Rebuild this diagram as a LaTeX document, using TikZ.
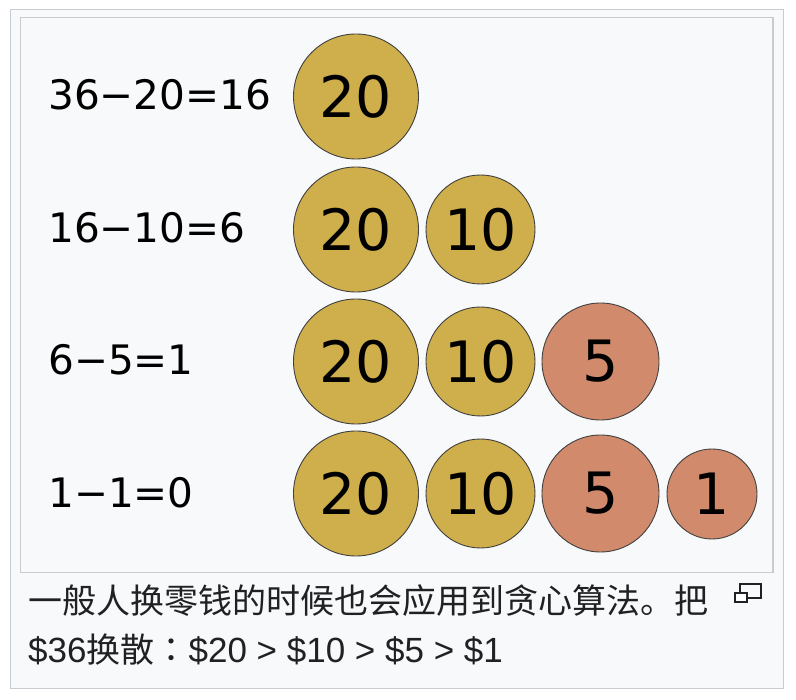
\documentclass[tikz,border=0pt]{standalone}
\usepackage{fontspec}
\setmainfont{DejaVu Sans}
\newfontfamily\cjk{Noto Sans CJK SC}
\newfontfamily\cjktc{Noto Sans CJK TC}
\newfontfamily\latin{Liberation Sans}
\usepackage{tikz}
\usetikzlibrary{positioning}
\definecolor{framegray}{HTML}{C8CCD1}
\definecolor{boxbg}{HTML}{F8F9FA}
\definecolor{goldc}{HTML}{CFAE4C}
\definecolor{copperc}{HTML}{D18B6C}
\definecolor{captext}{HTML}{202122}
\tikzset{
    coin/.style={circle,draw=black!75,line width=0.9pt,inner sep=0pt,font=\fontsize{57}{57}\selectfont},
    gold/.style={coin,fill=goldc},
    copper/.style={coin,fill=copperc},
    eq/.style={anchor=west,inner sep=0pt,font=\fontsize{40.6}{40.6}\selectfont},
    captionline/.style={anchor=base west,inner sep=0pt,text=captext,font=\fontsize{34}{34}\selectfont}
}

\begin{document}
\begin{tikzpicture}[x=1pt,y=-1pt]
        \useasboundingbox (0,0) rectangle (796,700);
        % Frames
        \draw[framegray,line width=1.5pt,fill=boxbg] (10.5,9.5) rectangle (783.5,688.5);
        \draw[framegray,line width=1.5pt,fill=boxbg] (20.5,17.5) rectangle (773,572.5);
        % Equations
        \node[eq] (eq1) at (48,95) {36−20=16};
        \node[eq] (eq2) at (48,228) {16−10=6};
        \node[eq] (eq3) at (48,360) {6−5=1};
        \node[eq] (eq4) at (48,493) {1−1=0};
        % Coins
        \node[gold,minimum size=125pt] (a20) at (356,96.5) {20};
        \node[gold,minimum size=125pt] (b20) at (356,229.5) {20};
        \node[gold,minimum size=109pt] (b10) at (480.5,229.5) {10};
        \node[gold,minimum size=125pt] (c20) at (356,361.5) {20};
        \node[gold,minimum size=109pt] (c10) at (480.5,361.5) {10};
        \node[copper,minimum size=117pt] (c5) at (600.5,361.5) {5};
        \node[gold,minimum size=125pt] (d20) at (356,493.5) {20};
        \node[gold,minimum size=109pt] (d10) at (480.5,493.5) {10};
        \node[copper,minimum size=117pt] (d5) at (600.5,493.5) {5};
        \node[copper,minimum size=90pt] (d1) at (712,494) {1};
        % Caption
        \node[captionline] (cap1) at (28,613) {\cjk 一般人换零钱的时候也会应用到贪心算法。把};
        \node[captionline] (cap2) at (28,662) {\latin\fontsize{35}{35}\selectfont\$36{\cjk\fontsize{34}{34}\selectfont 换散}{\cjktc\fontsize{34}{34}\selectfont ：}\$20 > \$10 > \$5 > \$1};
        % Enlarge icon
        \draw[captext,line width=1.4pt] (740,584) rectangle (761,598);
        \draw[captext,line width=1.4pt,fill=white] (735,593) rectangle (747,602);
    \end{tikzpicture}
\end{document}
